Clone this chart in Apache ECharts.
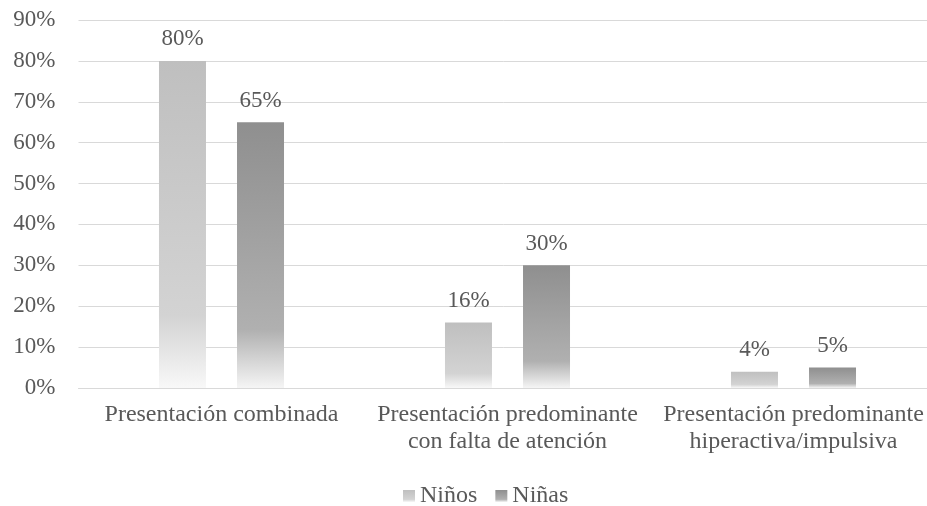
<!DOCTYPE html>
<html>
<head>
<meta charset="utf-8">
<script src="https://cdn.jsdelivr.net/npm/echarts@6/dist/echarts.min.js"></script>
<style>
html,body{margin:0;padding:0;background:#fff;}
#chart{width:927px;height:506px;}
</style>
</head>
<body>
<div id="chart"></div>
<script>
const categories = [
  'Presentación combinada',
  'Presentación predominante\ncon falta de atención',
  'Presentación predominante\nhiperactiva/impulsiva'
];
const ninos = [80, 16, 4];
const ninas = [65, 30, 5];
const seriesNames = ['Niños', 'Niñas'];

const FONT = '"Liberation Serif", "Times New Roman", serif';
const TXT = '#595959';
const FS = 23;
const FS_CAT = 24;

function grad(top, mid, bottom) {
  return new echarts.graphic.LinearGradient(0, 0, 0, 1, [
    { offset: 0, color: top },
    { offset: 0.78, color: mid },
    { offset: 1, color: bottom }
  ]);
}

const chart = echarts.init(document.getElementById('chart'), null, { renderer: 'canvas' });
chart.setOption({
  backgroundColor: '#ffffff',
  animation: false,
  // the plot area runs slightly past the right edge of the canvas
  grid: { left: 78.5, width: 858, top: 20, height: 368, outerBoundsMode: 'none', containLabel: false },
  legend: {
    top: 484,
    left: 403,
    padding: 0,
    itemWidth: 12,
    itemHeight: 12,
    itemGap: 18,
    icon: 'rect',
    textStyle: { fontFamily: FONT, fontSize: FS_CAT, color: TXT },
    data: seriesNames
  },
  xAxis: {
    type: 'category',
    data: categories,
    axisTick: { show: false },
    axisLine: { lineStyle: { color: '#d9d9d9', width: 1 } },
    axisLabel: { fontFamily: FONT, fontSize: FS_CAT, color: TXT, margin: 13, lineHeight: 27, interval: 0 }
  },
  yAxis: {
    type: 'value',
    min: 0,
    max: 90,
    interval: 10,
    axisLine: { show: false },
    axisTick: { show: false },
    splitLine: { lineStyle: { color: '#d9d9d9', width: 1 } },
    axisLabel: { fontFamily: FONT, fontSize: FS, color: TXT, margin: 23, formatter: '{value}%' }
  },
  series: [
    {
      name: seriesNames[0],
      type: 'bar',
      data: ninos,
      barWidth: 47,
      barGap: '66%',
      itemStyle: { color: grad('#bfbfbf', '#d3d3d3', '#f8f8f8') },
      label: { show: true, position: 'top', distance: 10, formatter: '{c}%', fontFamily: FONT, fontSize: FS, color: TXT }
    },
    {
      name: seriesNames[1],
      type: 'bar',
      data: ninas,
      barWidth: 47,
      barGap: '66%',
      itemStyle: { color: grad('#8f8f8f', '#b0b0b0', '#f5f5f5') },
      label: { show: true, position: 'top', distance: 10, formatter: '{c}%', fontFamily: FONT, fontSize: FS, color: TXT }
    }
  ]
});
</script>
</body>
</html>
